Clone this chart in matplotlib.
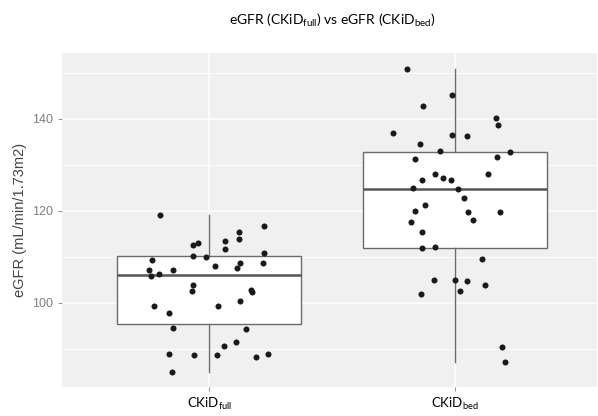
import numpy as np
import matplotlib
matplotlib.use("Agg")
import matplotlib.pyplot as plt
from matplotlib.ticker import MultipleLocator

plt.rcParams['mathtext.fontset'] = 'custom'
plt.rcParams['mathtext.rm'] = 'Lato'
plt.rcParams['mathtext.it'] = 'Lato:italic'
plt.rcParams['mathtext.bf'] = 'Lato:bold'

# values
full_vals = [119.1, 116.6, 115.5, 113.8, 113.5, 111.8, 113.1, 112.6, 110.9, 110.2,
             109.9, 109.4, 108.7, 108.7, 108.0, 107.5, 107.2, 107.2, 105.9, 106.2,
             103.8, 102.5, 102.7, 102.3, 100.4, 99.3, 99.3, 97.7, 94.5, 94.2,
             91.5, 90.6, 88.8, 88.6, 88.6, 88.3, 88.8, 84.9]
full_jit = [-0.203, 0.224, 0.123, 0.122, 0.064, 0.064, -0.048, -0.065, 0.224, -0.065,
            -0.015, -0.232, 0.218, 0.127, 0.022, 0.113, -0.244, -0.149, -0.236, -0.207,
            -0.065, -0.069, 0.170, 0.175, 0.127, -0.226, 0.035, -0.163, -0.148, 0.149,
            0.109, 0.060, -0.163, -0.061, 0.031, 0.191, 0.239, -0.153]

bed_vals = [150.9, 145.3, 142.8, 140.2, 138.6, 137.0, 136.5, 136.2, 134.5, 133.0,
            132.8, 131.3, 131.7, 128.1, 128.1, 127.2, 126.7, 126.7, 124.9, 124.8,
            122.8, 121.3, 120.0, 119.8, 119.8, 118.0, 117.5, 115.5, 111.9, 112.1,
            109.6, 105.0, 105.0, 104.8, 103.8, 102.6, 101.8, 90.3, 87.1]
bed_jit = [-0.194, -0.009, -0.129, 0.170, 0.179, -0.252, -0.009, 0.050, -0.142, -0.060,
           0.224, -0.161, 0.175, -0.078, 0.137, -0.046, -0.013, -0.133, -0.171, 0.013,
           0.037, -0.119, -0.161, 0.056, 0.184, 0.077, -0.179, -0.133, -0.133, -0.078,
           0.110, -0.083, 0.000, 0.050, 0.123, 0.023, -0.138, 0.192, 0.207]

cat_labels = [r"CKiD$_{\mathrm{full}}$", r"CKiD$_{\mathrm{bed}}$"]
title = r"eGFR (CKiD$_{\mathrm{full}}$) vs eGFR (CKiD$_{\mathrm{bed}}$)"

fig = plt.figure(figsize=(5.98, 4.16), dpi=100)
ax = fig.add_axes([0.104, 0.069, 0.894, 0.803])
ax.set_facecolor('#f0f0f0')

pos = [1, 2]
bp = ax.boxplot([full_vals, bed_vals], positions=pos, widths=0.75,
                patch_artist=True, showcaps=False, whis=1.5, zorder=2)
for b in bp['boxes']:
    b.set_facecolor('white')
    b.set_edgecolor('#6b6b6b')
    b.set_linewidth(1.0)
for w in bp['whiskers']:
    w.set_color('#6b6b6b')
    w.set_linewidth(1.0)
for m in bp['medians']:
    m.set_color('#555555')
    m.set_linewidth(1.8)

for p, vals, jit in [(1, full_vals, full_jit), (2, bed_vals, bed_jit)]:
    ax.scatter(np.array(jit) + p, vals, s=19, color='#1a1a1a', zorder=3, linewidths=0)

ax.set_xlim(0.4, 2.58)
ax.set_ylim(81.6, 154.3)
ax.yaxis.set_major_locator(MultipleLocator(20))
ax.yaxis.set_minor_locator(MultipleLocator(10))
ax.set_xticks(pos)
ax.set_xticklabels(cat_labels, fontsize=9.5, color='black', family='Lato')
ax.grid(True, which='major', color='white', linewidth=1.1, zorder=0)
ax.grid(True, which='minor', axis='y', color='white', linewidth=0.6, zorder=0)
ax.set_axisbelow(True)
for s in ax.spines.values():
    s.set_visible(False)
ax.tick_params(axis='both', which='major', length=3, color='#999999', width=0.8)
ax.tick_params(axis='y', which='minor', length=0)
ax.tick_params(axis='y', labelsize=9, labelcolor='#808080')
for t in ax.get_yticklabels():
    t.set_family('Liberation Sans')

ax.set_ylabel("eGFR (mL/min/1.73m2)", fontsize=10.5, color='#444444',
              family='Liberation Sans', labelpad=4)
fig.text(0.555, 0.952, title, ha='center', va='center', fontsize=10, family='Lato')

fig.savefig("out.png", dpi=100)
